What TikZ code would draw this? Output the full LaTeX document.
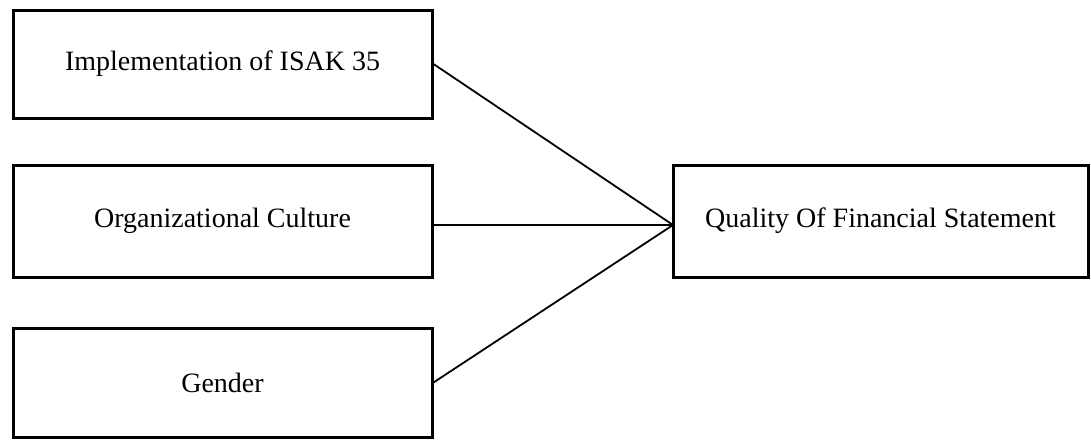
\documentclass[tikz,border=0pt]{standalone}
\usepackage{fontspec}
\setmainfont{Liberation Serif}
\begin{document}
\begin{tikzpicture}[x=1pt,y=-1pt,
  box/.style={draw=black,line width=3pt,rectangle,inner sep=0pt,
    font=\fontsize{28}{32}\selectfont,text=black},
  link/.style={draw=black,line width=1.8pt}]
\useasboundingbox (0,0) rectangle (1091,439);
\node[box,minimum width=419pt,minimum height=108pt] (b1) at (222.5,64) {Implementation of ISAK 35};
\node[box,minimum width=419pt,minimum height=112pt] (b2) at (222.5,221) {Organizational Culture};
\node[box,minimum width=419pt,minimum height=109pt] (b3) at (222.5,382.5) {Gender};
\node[box,minimum width=415pt,minimum height=112pt] (q) at (880.5,221) {Quality Of Financial Statement};
\coordinate (j) at (673,225);
\draw[link] (b1.east) -- (j);
\draw[link] (j -| b2.east) -- (j);
\draw[link] (b3.east) -- (j);
\end{tikzpicture}
\end{document}
